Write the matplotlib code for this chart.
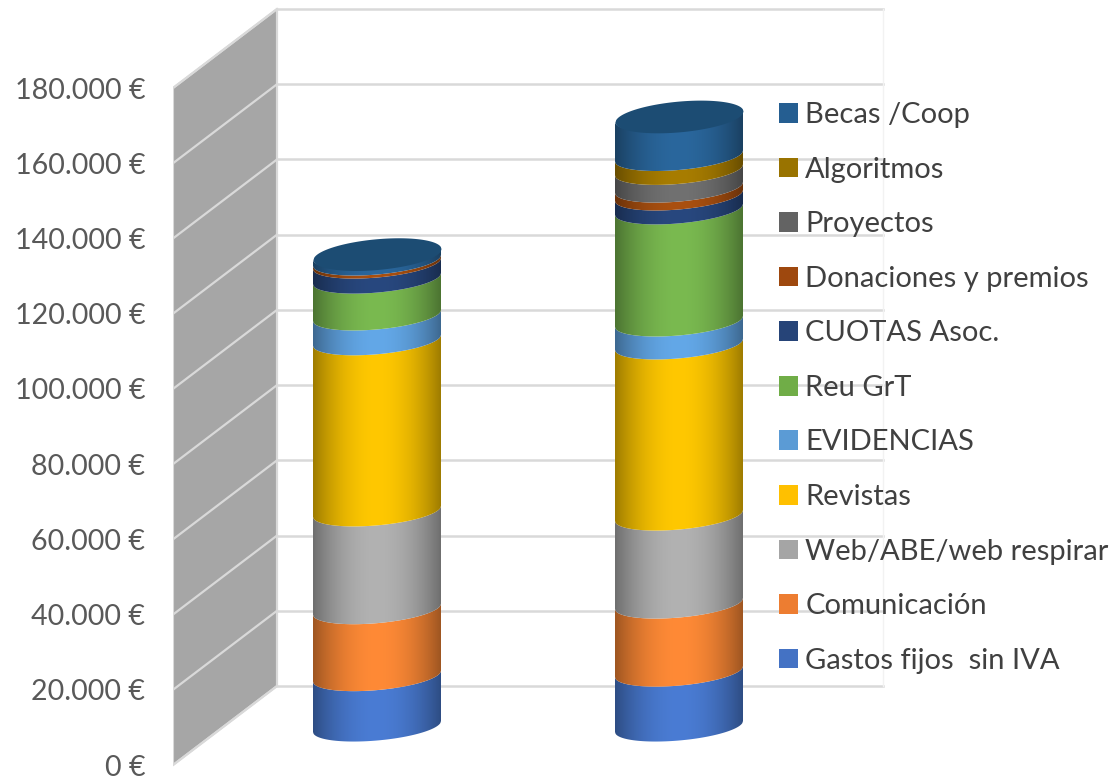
import numpy as np
import matplotlib
matplotlib.use("Agg")
import matplotlib.pyplot as plt
from matplotlib.patches import Patch, Polygon
from matplotlib.colors import to_rgb

plt.rcParams['font.family'] = ['Lato', 'DejaVu Sans']

# stacked values, bottom to top
series = ["Gastos fijos  sin IVA", "Comunicación", "Web/ABE/web respirar", "Revistas",
          "EVIDENCIAS", "Reu GrT", "CUOTAS Asoc.", "Donaciones y premios",
          "Proyectos", "Algoritmos", "Becas /Coop"]
column_1 = [13400, 17800, 26000, 45500, 6600, 9800, 4000, 800, 0, 0, 1700]
column_2 = [14600, 18100, 23400, 45500, 6100, 29800, 3700, 2100, 4700, 3700, 10500]
legend_colors = ["#4472C4", "#ED7D31", "#A5A5A5", "#FFC000", "#5B9BD5", "#70AD47",
                 "#264478", "#9E480E", "#636363", "#997300", "#255E91"]
bright_colors = ["#4A7CD4", "#FF8A36", "#B2B2B2", "#FFC800", "#63A8E8", "#7ABA50",
                 "#28487F", "#AA5010", "#717171", "#A87D00", "#2A679D"]
top_color = "#1C4C73"
y_ticks = list(range(0, 180001, 20000))
y_labels = ["0 €"] + [f"{v // 1000}.000 €" for v in y_ticks[1:]]

px_per_euro = 3.761 / 1000
depth_x = 104
depth_y = 79 / px_per_euro
mid_depth = 38.5 / px_per_euro
half_width = 64
half_minor = 14 / px_per_euro
tilt = 5.5 / px_per_euro

W, H = 1111, 779
fig = plt.figure(figsize=(W / 100, H / 100), dpi=100)
left = 173
ax = fig.add_axes([left / W, 0, 1 - left / W, 1])
ax.set_xlim(left, W)
ax.set_ylim(-14 / px_per_euro, 765 / px_per_euro)
for s in ax.spines.values():
    s.set_visible(False)
ax.set_xticks([])
ax.set_yticks(y_ticks)
ax.set_yticklabels(y_labels, fontsize=20.6, color="#595959")
ax.tick_params(axis="y", length=0, pad=20)

grid = "#D9D9D9"
# side wall and back wall
ax.add_patch(Polygon([(left, 0), (left + depth_x, depth_y),
                      (left + depth_x, 180000 + depth_y), (left, 180000)],
                     closed=True, fc="#A6A6A6", ec=grid, lw=1.5, zorder=1))
for v in y_ticks:
    ax.plot([left, left + depth_x], [v, v + depth_y], color=grid, lw=1.6, zorder=2)
    ax.plot([left + depth_x, 883], [v + depth_y, v + depth_y], color=grid, lw=1.8, zorder=2)
ax.plot([left + depth_x] * 2, [depth_y, 180000 + depth_y], color=grid, lw=1.5, zorder=2)
ax.plot([883, 883], [depth_y, 180000 + depth_y], color="#F2F2F2", lw=1, zorder=2)


def front_edge(t, level, bulge=1.0):
    return level - bulge * half_minor * np.sqrt(1 - t**2) + tilt * t


def back_edge(t, level, bulge=1.0):
    return level + bulge * half_minor * np.sqrt(1 - t**2) + tilt * t


def draw_cylinder(cx, values):
    t = np.linspace(-1, 1, 200)
    x = cx + half_width * t
    level = mid_depth
    for i, val in enumerate(values):
        if val == 0:
            continue
        lo = front_edge(t, level)
        hi = front_edge(t, level + val)
        poly = Polygon(np.r_[np.c_[x, lo], np.c_[x, hi][::-1]], closed=True,
                       fc="none", ec="none", transform=ax.transData)
        ax.add_patch(poly)
        shade = 1 - 0.38 * np.linspace(-1, 1, 256)**2
        img = np.outer(shade, to_rgb(bright_colors[i])).reshape(1, 256, 3)
        im = ax.imshow(img, extent=(cx - half_width, cx + half_width, level - half_minor - tilt,
                                    level + val + tilt),
                       aspect="auto", interpolation="bilinear", zorder=3)
        im.set_clip_path(poly)
        level += val
    ax.fill_between(x, front_edge(t, level, 1.1), back_edge(t, level, 1.1),
                    color=top_color, lw=0, zorder=4)


draw_cylinder(377, column_1)
draw_cylinder(679, column_2)
ax.set_xlim(left, W)
ax.set_ylim(-14 / px_per_euro, 765 / px_per_euro)

# legend order is top to bottom
handles = [Patch(fc=c, ec="none") for c in legend_colors[::-1]]
leg = ax.legend(handles, series[::-1], loc="upper left",
                bbox_to_anchor=((779 - left) / (W - left), 1 - 102 / H),
                frameon=False, fontsize=21, borderaxespad=0, borderpad=0,
                handlelength=0.66, handleheight=0.66, handletextpad=0.24,
                labelspacing=0.98, labelcolor="#404040")
leg.set_zorder(6)

fig.savefig("out.png", dpi=100)
